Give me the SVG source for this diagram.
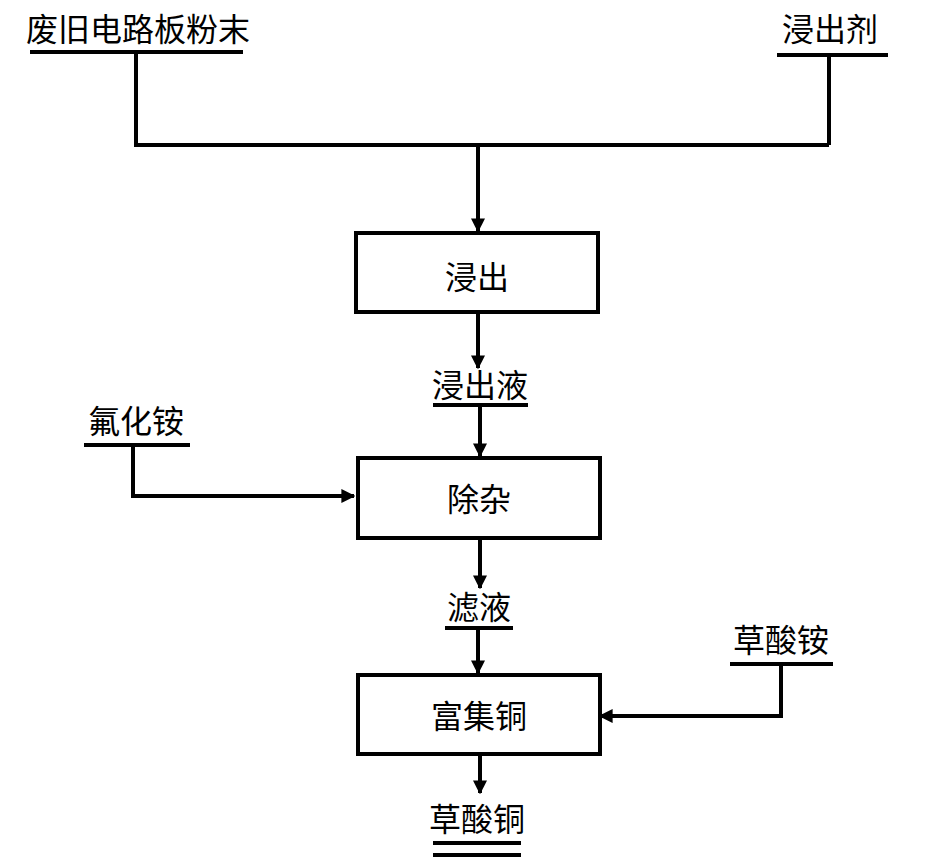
<svg xmlns="http://www.w3.org/2000/svg" width="945" height="858" viewBox="0 0 945 858">
<style>
.l{stroke:#000;stroke-width:4;fill:none}
.b{stroke:#000;stroke-width:4;fill:#fff}
text{font-family:"Noto Sans CJK SC",sans-serif;font-size:32px;fill:#000}
</style>
<defs><marker id="a" viewBox="0 0 10 10" refX="9" refY="5" markerWidth="3.5" markerHeight="3.5" orient="auto"><path d="M0,0L10,5L0,10z" fill="#000"/></marker></defs>
<rect width="945" height="858" fill="#fff"/>
<g id="connectors">
<path class="l" d="M30,52H243M136,52V145H829M777,55H888M829,55V145"/>
<path class="l" d="M478,145V231" marker-end="url(#a)"/>
<path class="l" d="M478,312V368" marker-end="url(#a)"/>
<path class="l" d="M433,405H528"/>
<path class="l" d="M480,405V456" marker-end="url(#a)"/>
<path class="l" d="M84,445H190M133,445V496H354" marker-end="url(#a)"/>
<path class="l" d="M480,538V588" marker-end="url(#a)"/>
<path class="l" d="M445,628H513"/>
<path class="l" d="M478,628V673" marker-end="url(#a)"/>
<path class="l" d="M730,664H833M781,664V716H600" marker-end="url(#a)"/>
<path class="l" d="M480,754V793" marker-end="url(#a)"/>
<path class="l" d="M433,843H521M433,855H521"/>
</g>
<g id="n1"><text x="26" y="41">废旧电路板粉末</text></g>
<g id="n2"><text x="782" y="41">浸出剂</text></g>
<g id="box1"><rect class="b" x="356" y="233" width="242" height="79"/><text x="477" y="289" text-anchor="middle">浸出</text></g>
<g id="n3"><text x="480" y="397" text-anchor="middle">浸出液</text></g>
<g id="n4"><text x="136" y="433" text-anchor="middle">氟化铵</text></g>
<g id="box2"><rect class="b" x="358" y="458" width="242" height="80"/><text x="479" y="511" text-anchor="middle">除杂</text></g>
<g id="n5"><text x="479" y="619" text-anchor="middle">滤液</text></g>
<g id="n6"><text x="781" y="652" text-anchor="middle">草酸铵</text></g>
<g id="box3"><rect class="b" x="358" y="675" width="242" height="79"/><text x="479" y="728" text-anchor="middle">富集铜</text></g>
<g id="n7"><text x="477" y="831" text-anchor="middle">草酸铜</text></g>
</svg>
